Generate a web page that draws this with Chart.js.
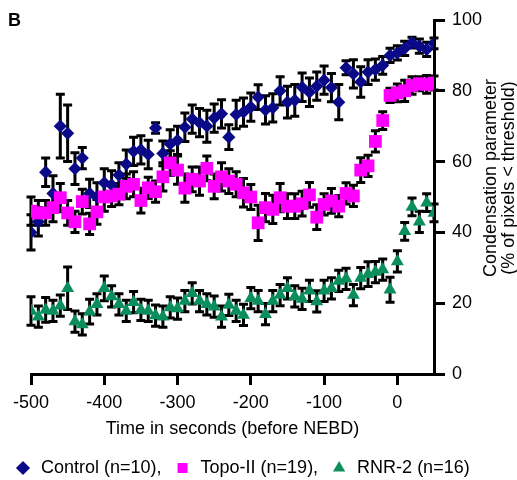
<!DOCTYPE html>
<html>
<head>
<meta charset="utf-8">
<script src="https://cdn.jsdelivr.net/npm/chart.js@4"></script>
<style>
  html, body { margin: 0; padding: 0; background: #fff; }
  #wrap { width: 517px; height: 480px; }
</style>
</head>
<body>
<div id="wrap"><canvas id="myChart"></canvas></div>
<script>
const times = [-500, -490, -480, -470, -460, -450, -440, -430, -420, -410,
  -400, -390, -380, -370, -360, -350, -340, -330, -320, -310,
  -300, -290, -280, -270, -260, -250, -240, -230, -220, -210,
  -200, -190, -180, -170, -160, -150, -140, -130, -120, -110,
  -100, -90, -80, -70, -60, -50, -40, -30, -20, -10,
  0, 10, 20, 30, 40, 50]
const xTicks = [-500, -400, -300, -200, -100, 0]
const yTicks = [0, 20, 40, 60, 80, 100]

const control = [40, 43, 57, 51, 70, 68, 58, 61, 51, 50,
  54, 53.4, 56.2, 59.3, 62.9, 63.3, 62, 69.5, 62.3, 65,
  66, 69.7, 72, 71, 70, 72.3, 73.5, 66.9, 73.3, 74,
  75.4, 78.2, 74.6, 75.2, 80, 76.8, 77.3, 81, 79.6, 81.3,
  83, 80.9, 76.8, 86.5, 84.8, 82.5, 85.3, 86, 87.2, 90,
  90.7, 92, 93.6, 92.6, 91.7, 93.4]
const controlErr = [5, 4, 4, 5, 9, 8, 4.5, 3, 4, 4,
  4, 4, 3.5, 4, 4, 4, 4, 1.5, 3.5, 4,
  4, 4, 4, 4, 4.5, 4, 4, 3.5, 4, 4,
  4, 3.5, 4, 4, 4, 4.5, 4.5, 4, 4, 4,
  4, 4, 5, 2, 4, 4.3, 3.5, 3, 2.5, 2,
  2, 2, 1.5, 2, 2, 1.5]

const topo = [46, 45.5, 45.5, 47, 49.8, 45.5, 43, 48.7, 42.4, 45.8,
  50, 50.3, 50.8, 53, 53.6, 49, 52.6, 51.5, 55.7, 59.6,
  57.6, 52.5, 55, 54.5, 58.1, 53, 55.7, 54.5, 53.6, 51.2,
  50, 42.7, 47, 46.5, 49.8, 47.4, 47.4, 48.1, 50.6, 44.3,
  47.9, 48.9, 47.4, 51, 50.3, 57.6, 58.8, 65.7, 71.6, 78.7,
  79.4, 80, 81.5, 82, 81.8, 82.2]
const topoErr = [4, 3.5, 3.5, 4, 4, 3.5, 3, 3.5, 3, 3.5,
  4, 3, 3, 3.5, 3.5, 3.5, 3, 3, 4, 3.5,
  4, 4, 3.5, 4, 3.5, 3.5, 4, 3.5, 3.5, 4,
  3.5, 5, 4, 4, 4, 3.5, 3.5, 3.5, 3.5, 3.5,
  3, 3.5, 3, 3, 3, 3.5, 3, 3, 2.5, 2,
  2.5, 3, 2.5, 2, 2.5, 2]

const rnr = [17.8, 16.2, 18.1, 17.8, 19.3, 24.2, 14.8, 14, 17.6, 19.7,
  24.2, 21.9, 19.7, 17.8, 20.3, 18.1, 17.8, 16.5, 16.2, 18.8,
  18.5, 20.6, 22.8, 20.6, 19.7, 19, 16.2, 19.5, 17.8, 16.7,
  21.4, 20.6, 16.9, 20.6, 22.3, 24.2, 21.9, 21.2, 23.5, 20.5,
  23.5, 24.2, 26.3, 26.9, 22.3, 27.1, 28.2, 28.8, 29.5, 23.8,
  31.8, 40.3, 47.2, 43, 48.4, 45.5]
const rnrErr = [4, 3, 3.5, 3, 3, 6, 3, 3, 3.5, 3,
  3.5, 3, 3, 3, 3, 3, 3, 3, 3, 3,
  3, 3, 3, 3, 3, 3, 3, 3, 3, 3,
  3, 3, 3, 3, 3, 3, 3, 3, 3, 3,
  3, 3, 3, 3, 3, 3, 3.5, 3, 3, 3.5,
  3, 2.5, 2.5, 3, 2.5, 2.5]

const FONT = "'Liberation Sans', Arial, sans-serif"
Chart.defaults.font.family = FONT
Chart.defaults.font.size = 18
Chart.defaults.color = '#000'

function pts(vals) {
  return times.map((t, i) => ({ x: t, y: vals[i] }))
}

// error bars, drawn under all the markers
const errorBars = {
  id: 'errorBars',
  beforeDatasetsDraw(chart) {
    const ctx = chart.ctx
    const yScale = chart.scales.y
    ctx.save()
    ctx.strokeStyle = '#000'
    ctx.lineWidth = 3
    chart.data.datasets.forEach((ds, i) => {
      const meta = chart.getDatasetMeta(i)
      meta.data.forEach((p, j) => {
        const v = ds.data[j].y
        const e = ds.errors[j]
        const y1 = yScale.getPixelForValue(v + e)
        const y2 = yScale.getPixelForValue(v - e)
        ctx.beginPath()
        ctx.moveTo(p.x, y1); ctx.lineTo(p.x, y2)
        ctx.moveTo(p.x - 4.5, y1); ctx.lineTo(p.x + 4.5, y1)
        ctx.moveTo(p.x - 4.5, y2); ctx.lineTo(p.x + 4.5, y2)
        ctx.stroke()
      })
    })
    ctx.restore()
  }
}

const extraText = {
  id: 'extraText',
  afterLayout(chart) {
    chart.legend.top += 7
    chart.legend.bottom += 7
  },
  afterDraw(chart) {
    const ctx = chart.ctx
    ctx.save()
    ctx.fillStyle = '#000'
    ctx.font = 'bold 18px ' + FONT
    ctx.textAlign = 'left'
    ctx.textBaseline = 'alphabetic'
    ctx.fillText('B', 8, 26)
    ctx.font = '18px ' + FONT
    ctx.textAlign = 'center'
    ctx.textBaseline = 'middle'
    const lines = [['Condensation parameter', 491], ['(% of pixels < threshold)', 509]]
    lines.forEach(([txt, x]) => {
      ctx.save()
      ctx.translate(x, 178)
      ctx.rotate(-Math.PI / 2)
      ctx.fillText(txt, 0, 0)
      ctx.restore()
    })
    ctx.restore()
  }
}

const ctx = document.getElementById('myChart').getContext('2d')
const myChart = new Chart(ctx, {
  type: 'scatter',
  data: {
    datasets: [{
      label: 'Control (n=10),',
      data: pts(control),
      errors: controlErr,
      pointStyle: 'rectRot',
      pointRadius: 6.6,
      pointBorderWidth: 0,
      backgroundColor: '#0a0a88',
      borderColor: '#0a0a88',
      order: 3
    }, {
      label: 'Topo-II (n=19),',
      data: pts(topo),
      errors: topoErr,
      pointStyle: 'rect',
      pointRadius: 9,
      pointBorderWidth: 0,
      backgroundColor: '#ff00ff',
      borderColor: '#ff00ff',
      order: 2
    }, {
      label: 'RNR-2 (n=16)',
      data: pts(rnr),
      errors: rnrErr,
      pointStyle: 'triangle',
      pointRadius: 7.5,
      pointBorderWidth: 0,
      backgroundColor: '#0a8f5c',
      borderColor: '#0a8f5c',
      order: 1
    }]
  },
  options: {
    responsive: true,
    maintainAspectRatio: false,
    animation: false,
    events: [],
    layout: { padding: { left: 2, top: 20, right: 0, bottom: 0 } },
    plugins: {
      tooltip: { enabled: false },
      legend: {
        position: 'bottom',
        align: 'start',
        labels: {
          usePointStyle: true,
          boxWidth: 18,
          boxHeight: 10,
          padding: 12,
          color: '#000',
          font: { size: 18 },
          sort: (a, b) => a.datasetIndex - b.datasetIndex
        }
      }
    },
    scales: {
      x: {
        type: 'linear',
        position: 'bottom',
        min: -500,
        max: 50,
        afterBuildTicks: (s) => { s.ticks = xTicks.map(v => ({ value: v })) },
        afterFit: (s) => { s.height = 66; s.paddingLeft = 31 },
        border: { display: true, color: '#000', width: 3 },
        grid: { display: true, drawOnChartArea: false, drawTicks: true, tickLength: 11, lineWidth: 3, color: '#000' },
        ticks: { padding: 7, font: { size: 18 }, color: '#000', maxRotation: 0 },
        title: { display: true, text: 'Time in seconds (before NEBD)', font: { size: 18 }, color: '#000', padding: { top: 0, bottom: 0 } }
      },
      y: {
        type: 'linear',
        position: 'right',
        min: 0,
        max: 100,
        afterBuildTicks: (s) => { s.ticks = yTicks.map(v => ({ value: v })) },
        afterFit: (s) => { s.width = 83 },
        border: { display: true, color: '#000', width: 3 },
        grid: { display: true, drawOnChartArea: false, drawTicks: true, tickLength: 11, lineWidth: 3, color: '#000' },
        ticks: { padding: 7, font: { size: 18 }, color: '#000' }
      }
    }
  },
  plugins: [errorBars, extraText]
})
</script>
</body>
</html>
